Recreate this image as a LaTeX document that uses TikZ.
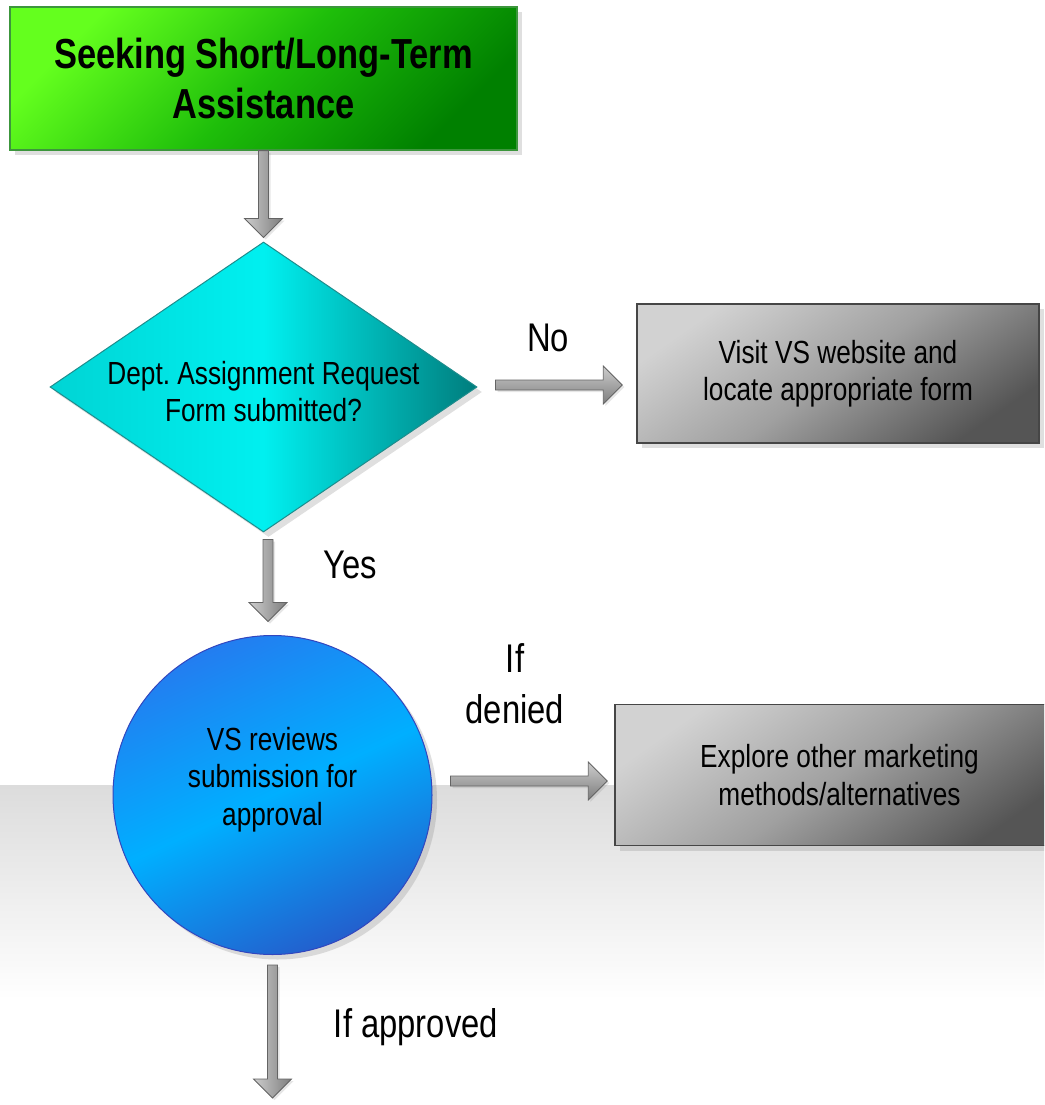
\documentclass[tikz,border=0pt]{standalone}
\usepackage{fontspec}
\setmainfont{Liberation Sans}[FakeStretch=0.82]
\usetikzlibrary{shapes.geometric, shadows, calc, positioning}
\frenchspacing
\definecolor{greenLight}{RGB}{100,255,30}
\definecolor{greenMid}{RGB}{30,190,10}
\definecolor{greenDark}{RGB}{0,128,0}
\definecolor{greenLine}{RGB}{60,150,60}
\definecolor{tealLeft}{RGB}{0,212,212}
\definecolor{tealMid}{RGB}{0,240,240}
\definecolor{tealRight}{RGB}{0,125,125}
\definecolor{tealLine}{RGB}{30,140,140}
\definecolor{blueTop}{RGB}{35,125,240}
\definecolor{blueMid}{RGB}{0,175,255}
\definecolor{blueBottom}{RGB}{35,95,205}
\definecolor{blueLine}{RGB}{50,70,190}
\definecolor{greyLight}{RGB}{210,210,210}
\definecolor{greyMid}{RGB}{160,160,160}
\definecolor{greyDark}{RGB}{85,85,85}
\definecolor{greyLine}{RGB}{70,70,70}
\definecolor{arrowLight}{RGB}{205,205,205}
\definecolor{arrowDark}{RGB}{125,125,125}
\definecolor{arrowLine}{RGB}{100,100,100}
\definecolor{bandGrey}{RGB}{220,220,220}
\tikzset{
    % node style
    every node/.style = {font=\fontsize{32}{37.5}\selectfont},
    % soft shadow under the shapes
    boxShadow/.style = {drop shadow={shadow xshift=5pt, shadow yshift=-5pt, opacity=0.25}},
    % abstract base node style
    base/.style = {
        draw, inner sep=0pt, text centered, boxShadow
    },
    % special node styles (inherited from base style)
    startBox/.style = {base, rectangle, minimum width=507pt, minimum height=143pt,
        draw=greenLine, line width=1.2pt,
        top color=greenLight, bottom color=greenDark, middle color=greenMid, shading angle=45,
        font=\fontsize{42}{50}\selectfont\bfseries},
    decision/.style = {base, diamond, aspect=1.47, minimum width=427pt, minimum height=290pt,
        text height=70pt, draw=tealLine, line width=1pt,
        left color=tealLeft, right color=tealRight, middle color=tealMid},
    review/.style = {base, circle, minimum size=319pt, text depth=38pt,
        draw=blueLine, line width=1pt,
        top color=blueTop, bottom color=blueBottom, middle color=blueMid, shading angle=25},
    action/.style = {base, rectangle, minimum width=402pt, minimum height=139pt,
        draw=greyLine, line width=1.5pt,
        top color=greyLight, bottom color=greyDark, middle color=greyMid, shading angle=35},
    tag/.style = {font=\fontsize{40}{51}\selectfont},
    % block arrow built between two points
    fatArrow/.style = {
        draw=arrowLine, line width=0.8pt,
        drop shadow={shadow xshift=2pt, shadow yshift=-2pt, opacity=0.2},
        to path={
            ($(\tikztostart)!5pt!90:(\tikztotarget)$)
            -- ($(\tikztotarget)!19pt!(\tikztostart)!5pt!90:(\tikztotarget)$)
            -- ($(\tikztotarget)!19pt!(\tikztostart)!19pt!90:(\tikztotarget)$)
            -- (\tikztotarget)
            -- ($(\tikztotarget)!19pt!(\tikztostart)!19pt!-90:(\tikztotarget)$)
            -- ($(\tikztotarget)!19pt!(\tikztostart)!5pt!-90:(\tikztotarget)$)
            -- ($(\tikztostart)!5pt!-90:(\tikztotarget)$)
            -- cycle
        }
    },
    fatDown/.style = {fatArrow, left color=arrowLight, right color=arrowDark},
    fatRight/.style = {fatArrow, top color=arrowLight, bottom color=arrowDark}
}
\begin{document}
\begin{tikzpicture}[x=1pt, y=-1pt, node distance=300pt, align=center]
        % page frame and the grey band behind the lower part
        \useasboundingbox (0,0) rectangle (1044,1105);
        \clip (0,0) rectangle (1044,1105);
        \path[top color=bandGrey, bottom color=white] (0,785) rectangle (1044,1000);
        % place blocks of the flowchart
        \node[startBox] (seeking) at (263.5,78.5) {Seeking Short/Long-Term\\Assistance};
        \node[decision] (submitted) [below of=seeking, yshift=-8.5pt] {Dept. Assignment Request\\Form submitted?};
        \node[action] (visit) [right of=submitted, xshift=274.5pt, yshift=13.5pt] {Visit VS website and\\locate appropriate form};
        \node[review] (review) [below of=submitted, xshift=9pt, yshift=-108pt] {VS reviews\\submission for\\approval};
        \node[action, minimum width=449pt, minimum height=141pt] (explore) [right of=review, xshift=267pt, yshift=20pt] {Explore other marketing\\methods/alternatives};
        \coordinate (nextStep) at (272.5,1098);
        % draw block arrows
        \path[fatDown] (seeking.south) to ([yshift=4pt]submitted.north);
        \path[fatDown] ([xshift=4.5pt, yshift=-7pt]submitted.south) to ([xshift=-4.5pt, yshift=13.5pt]review.north);
        \path[fatDown] ([yshift=-10pt]review.south) to (nextStep);
        \path[fatRight] ([xshift=18pt, yshift=2pt]submitted.east) to ([xshift=-14pt, yshift=-11.5pt]visit.west);
        \path[fatRight] ([xshift=18pt, yshift=14pt]review.east) to ([xshift=-7pt, yshift=-6pt]explore.west);
        % labels next to the arrows
        \node[tag] (no) at (548,338) {No};
        \node[tag] (yes) at (350,565) {Yes};
        \node[tag] (denied) at (515,684) {If\\denied};
        \node[tag] (approved) at (416,1027) {If approved};
\end{tikzpicture}
\end{document}
